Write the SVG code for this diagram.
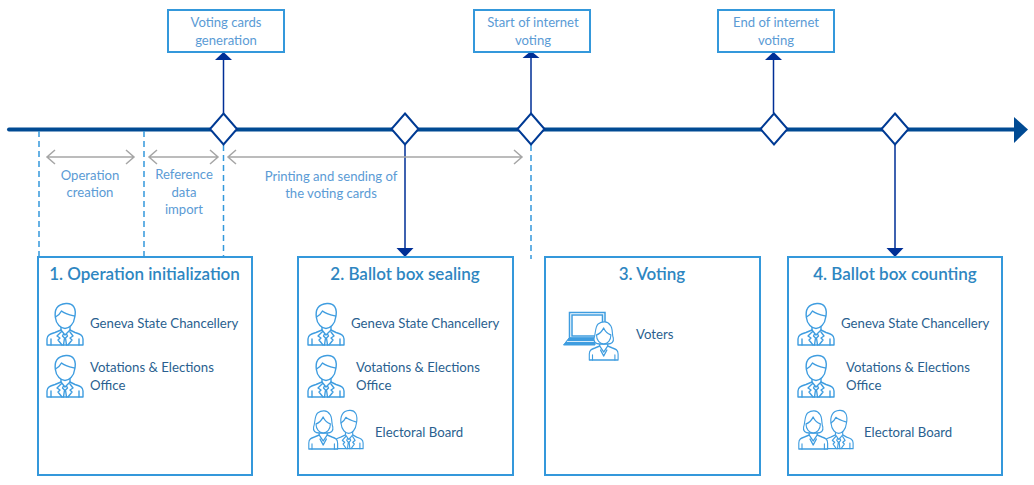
<svg xmlns="http://www.w3.org/2000/svg" xmlns:xlink="http://www.w3.org/1999/xlink" width="1034" height="485" viewBox="0 0 1034 485">
<style>
text{font-family:Lato,"Open Sans","Liberation Sans",sans-serif}
.box{fill:#fff;stroke:#3498db;stroke-width:2}
.lt{font-size:13.100px;fill:#5b9bd5;text-anchor:middle}
.tt{font-size:17px;font-weight:600;fill:#2e86c1;text-anchor:middle}
.nm{font-size:13.200px;fill:#2a5f8f}
.dash{fill:none;stroke:#3498db;stroke-width:1.5;stroke-dasharray:6 4}
.gr{fill:none;stroke:#a6a6a6;stroke-width:1.5}
.sh{fill:none;stroke:#002f96;stroke-width:1.5}
.dm{fill:#fff;stroke:#003a94;stroke-width:2}
.ic{fill:#fff;stroke:#3f9de0;stroke-width:1.400;stroke-linejoin:round;stroke-linecap:round}
</style>
<defs>
<symbol id="man" overflow="visible">
<path class="ic" d="M1 42V36C1 32 4 31 9 29.500L15 27V22H24V27L29 29.500C34 31 37 32 37 36V42Z"/>
<path class="ic" d="M15 27L19 32L24 27M17.500 31L16.500 33L18.500 35L17.500 42M20.500 31L21.500 33L19.500 35L20.500 42M15 29L11 33L14 35L12 37L16 42M24 29L27 33L24 35L26 37L22 42M5 36V42M33 36V42"/>
<path class="ic" d="M9.500 15C8 7 11 1 20 0.500C27 0 31 5 28.500 15C28 21 23 25.500 19 25.500C15 25.500 10 21 9.500 15Z"/>
<path class="ic" d="M9.500 14C13 12 14.500 10 15.500 8C19 11 24 12 28.500 13"/>
</symbol>
<symbol id="woman" overflow="visible">
<path class="ic" d="M1 38V32C1 28 4 27 8 26L14 24V21H24V24L30 26C34 27 37 28 37 32V38Z"/>
<path class="ic" d="M14 24L19 30L24 24M15 28L19 34L23 28M5 33V38M33 33V38"/>
<path class="ic" d="M14 22C9 22 6 20 7 16C9 12 8 5 12 2C17 -1 24 -1 27 3C31 6 29 13 31 16C32 20 29 22 24 22Z"/>
<path class="ic" d="M10 13C14 12 17 9 19 6C21 10 25 12 28 13C28 18 24 22 19 22C14 22 10 18 10 13Z"/>
</symbol>
<symbol id="pair" overflow="visible">
<g transform="translate(25.500 0) scale(.8 .92)"><use xlink:href="#man"/></g>
<g transform="translate(0 1) scale(.8 1)"><use xlink:href="#woman"/></g>
</symbol>
</defs>

<g id="connectors">
<path d="M9 129.500H1016" fill="none" stroke="#004a93" stroke-width="4" stroke-linecap="round"/>
<path d="M1014 117L1028 129.500L1014 143Z" fill="#004a93"/>
<path class="dash" d="M39 131V257M144 131V257M223.500 145V257M531 145V259"/>
<path class="sh" d="M223.500 113V60M531 113V58M773.500 113V60M405 145V250M895 145V250"/>
<path d="M215 60L223.500 52L232 60Z M522.500 58L531 51L539.500 58Z M765 60L773.500 52L782 60Z" fill="#002f96"/>
<path d="M396.500 248L405 257L413.500 248Z M886.500 248L895 257L903.500 248Z" fill="#002f96"/>
<path class="gr" d="M47 157H134M55 150L47 157L55 164M126 150L134 157L126 164"/>
<path class="gr" d="M149 157H218M157 150L149 157L157 164M210 150L218 157L210 164"/>
<path class="gr" d="M228 157H522M236 150L228 157L236 164M514 150L522 157L514 164"/>
</g>

<g id="m1"><path class="dm" d="M223.500 113.500L237 129L223.500 144.500L210 129Z"/></g>
<g id="m2"><path class="dm" d="M405 113.500L418.500 129L405 144.500L391.500 129Z"/></g>
<g id="m3"><path class="dm" d="M531 113.500L544.500 129L531 144.500L517.500 129Z"/></g>
<g id="m4"><path class="dm" d="M774 113.500L787.500 129L774 144.500L760.500 129Z"/></g>
<g id="m5"><path class="dm" d="M895 113.500L908.500 129L895 144.500L881.500 129Z"/></g>

<g id="voting-cards"><rect class="box" x="168" y="10" width="116" height="42"/><text class="lt" x="226" y="27">Voting cards</text><text class="lt" x="226" y="45">generation</text></g>
<g id="start-voting"><rect class="box" x="474" y="10" width="116" height="42"/><text class="lt" x="533" y="27">Start of internet</text><text class="lt" x="533" y="45">voting</text></g>
<g id="end-voting"><rect class="box" x="718" y="10" width="116" height="42"/><text class="lt" x="776" y="27">End of internet</text><text class="lt" x="776" y="45">voting</text></g>

<g id="label-creation"><text class="lt" x="90" y="180">Operation</text><text class="lt" x="90" y="197">creation</text></g>
<g id="label-import"><text class="lt" x="184" y="179">Reference</text><text class="lt" x="184" y="197">data</text><text class="lt" x="184" y="214">import</text></g>
<g id="label-printing"><text class="lt" x="331" y="181">Printing and sending of</text><text class="lt" x="331" y="198">the voting cards</text></g>

<g id="box1"><rect class="box" x="38" y="257" width="214" height="218"/><text class="tt" x="144.500" y="280">1. Operation initialization</text>
<use xlink:href="#man" x="46" y="303"/><text class="nm" x="90" y="328">Geneva State Chancellery</text>
<use xlink:href="#man" x="46" y="355"/><text class="nm" x="90" y="372">Votations &amp; Elections</text><text class="nm" x="90" y="390">Office</text></g>

<g id="box2"><rect class="box" x="298" y="257" width="215" height="218"/><text class="tt" x="405" y="280">2. Ballot box sealing</text>
<use xlink:href="#man" x="307" y="303"/><text class="nm" x="351" y="328">Geneva State Chancellery</text>
<use xlink:href="#man" x="307" y="355"/><text class="nm" x="356" y="372">Votations &amp; Elections</text><text class="nm" x="356" y="390">Office</text>
<use xlink:href="#pair" x="308" y="410"/><text class="nm" x="375" y="437">Electoral Board</text></g>

<g id="box3"><rect class="box" x="545" y="257" width="215" height="218"/><text class="tt" x="652" y="280">3. Voting</text>
<path d="M569.500 312.500H605V338H569.500Z" fill="#fff" stroke="#3f9de0" stroke-width="1.500"/>
<path d="M572 315H602.500V336H572Z" fill="#fff" stroke="#3f9de0" stroke-width="1.500"/>
<path d="M569 338H595V345H563.500Z" fill="#3f9de0" stroke="#3f9de0"/>
<path d="M567 341.500H594" stroke="#fff" stroke-width=".8"/>
<g transform="translate(588.500 322) scale(.8 1)"><use xlink:href="#woman"/></g>
<text class="nm" x="636" y="339">Voters</text></g>

<g id="box4"><rect class="box" x="788" y="257" width="214" height="218"/><text class="tt" x="895" y="280">4. Ballot box counting</text>
<use xlink:href="#man" x="797" y="303"/><text class="nm" x="841" y="328">Geneva State Chancellery</text>
<use xlink:href="#man" x="797" y="355"/><text class="nm" x="846" y="372">Votations &amp; Elections</text><text class="nm" x="846" y="390">Office</text>
<use xlink:href="#pair" x="798" y="410"/><text class="nm" x="864" y="437">Electoral Board</text></g>
</svg>
